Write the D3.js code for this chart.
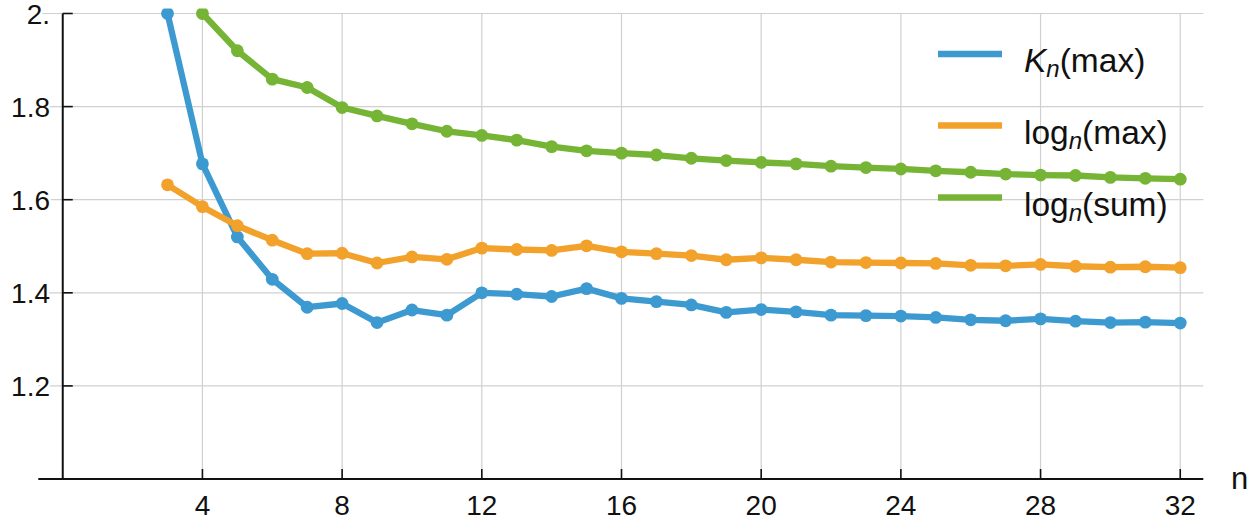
<!DOCTYPE html>
<html>
<head>
<meta charset="utf-8">
<script src="https://cdn.jsdelivr.net/npm/d3@7"></script>
<style>
  html, body { margin: 0; padding: 0; background: #fff; }
  svg { display: block; font-family: "Liberation Sans", Arial, sans-serif; }
</style>
</head>
<body>
<svg id="chart" width="1258" height="525"></svg>
<script>
// ---- data ----
const nValues = [3,4,5,6,7,8,9,10,11,12,13,14,15,16,17,18,19,20,21,22,23,24,25,26,27,28,29,30,31,32];
const knMax = [2.000,1.677,1.520,1.429,1.369,1.377,1.336,1.363,1.352,1.400,1.397,1.392,1.409,1.388,1.381,1.374,1.358,1.364,1.359,1.352,1.351,1.350,1.347,1.342,1.340,1.344,1.339,1.336,1.337,1.335];
const logMax = [1.632,1.585,1.544,1.513,1.484,1.485,1.464,1.477,1.472,1.496,1.493,1.491,1.501,1.488,1.484,1.480,1.471,1.475,1.471,1.466,1.465,1.464,1.463,1.459,1.458,1.461,1.457,1.455,1.456,1.454];
const nSum = [4,5,6,7,8,9,10,11,12,13,14,15,16,17,18,19,20,21,22,23,24,25,26,27,28,29,30,31,32];
const logSum = [2.000,1.920,1.859,1.841,1.798,1.780,1.763,1.747,1.738,1.728,1.714,1.705,1.700,1.696,1.689,1.684,1.680,1.677,1.672,1.669,1.666,1.662,1.659,1.655,1.653,1.652,1.648,1.646,1.644];
const xTicks = [4,8,12,16,20,24,28,32];
const yTicks = [1.2,1.4,1.6,1.8,2.0];
const yTickLabels = ["1.2","1.4","1.6","1.8","2."];
const seriesNames = ["Kn(max)","logn(max)","logn(sum)"];
const colors = ["#3d9ad1","#f2a12a","#76b435"];

const series = [
  { name: seriesNames[0], color: colors[0], pts: nValues.map((n,i)=>[n, knMax[i]]) },
  { name: seriesNames[1], color: colors[1], pts: nValues.map((n,i)=>[n, logMax[i]]) },
  { name: seriesNames[2], color: colors[2], pts: nSum.map((n,i)=>[n, logSum[i]]) }
];

// ---- scales ----
const svg = d3.select("#chart");
const x = d3.scaleLinear().domain([-0.7, 32.66]).range([38.3, 1203.3]);
const y = d3.scaleLinear().domain([1, 2]).range([479, 13.5]);
const x0 = x(0), y0 = y(1);

// gridlines
const grid = svg.append("g");
grid.selectAll("line.h").data(yTicks).join("line")
  .attr("x1", x.range()[0]).attr("x2", x.range()[1])
  .attr("y1", d=>y(d)).attr("y2", d=>y(d))
  .attr("stroke", "#d0d0d0").attr("stroke-width", 1.2);
grid.selectAll("line.v").data(xTicks).join("line")
  .attr("x1", d=>x(d)).attr("x2", d=>x(d))
  .attr("y1", y(2)).attr("y2", y0)
  .attr("stroke", "#d0d0d0").attr("stroke-width", 1.2);

// axes
const axes = svg.append("g").attr("stroke", "#111").attr("stroke-width", 2);
axes.append("line").attr("x1", x.range()[0]).attr("x2", x.range()[1]).attr("y1", y0).attr("y2", y0);
axes.append("line").attr("x1", x0).attr("x2", x0).attr("y1", y0).attr("y2", y(2));
axes.selectAll("line.xt").data(xTicks).join("line")
  .attr("x1", d=>x(d)).attr("x2", d=>x(d)).attr("y1", y0).attr("y2", y0 - 10)
  .attr("stroke-width", 1.6);
axes.selectAll("line.yt").data(yTicks).join("line")
  .attr("x1", x0).attr("x2", x0 + 10).attr("y1", d=>y(d)).attr("y2", d=>y(d))
  .attr("stroke-width", 1.6);

// tick labels
svg.append("g").selectAll("text").data(xTicks).join("text")
  .attr("x", d=>x(d)).attr("y", y0 + 36)
  .attr("text-anchor", "middle").attr("font-size", 28).attr("fill", "#111")
  .text(d=>d);
svg.append("g").selectAll("text").data(yTicks).join("text")
  .attr("x", 50).attr("y", d=>y(d) + 10)
  .attr("text-anchor", "end").attr("font-size", 28).attr("fill", "#111")
  .attr("stroke", "#fff").attr("stroke-width", 5).attr("paint-order", "stroke")
  .text((d,i)=>yTickLabels[i]);
svg.append("text").attr("x", 1231).attr("y", 489).attr("font-size", 31).attr("fill", "#111").text("n");

// clip
svg.append("defs").append("clipPath").attr("id", "clip")
  .append("rect").attr("x", 0).attr("y", y(2) - 5).attr("width", 1258).attr("height", 525);

const plot = svg.append("g").attr("clip-path", "url(#clip)");
const line = d3.line().x(d=>x(d[0])).y(d=>y(d[1]));
series.forEach(s => {
  const g = plot.append("g");
  g.append("path").datum(s.pts).attr("d", line)
    .attr("fill", "none").attr("stroke", s.color).attr("stroke-width", 6.3)
    .attr("stroke-linejoin", "round").attr("stroke-linecap", "round");
  g.selectAll("circle").data(s.pts).join("circle")
    .attr("cx", d=>x(d[0])).attr("cy", d=>y(d[1])).attr("r", 6.4)
    .attr("fill", s.color);
});

// legend
const legY = [54, 125.5, 197.5];
const leg = svg.append("g");
series.forEach((s, i) => {
  leg.append("line").attr("x1", 938).attr("x2", 1002).attr("y1", legY[i]).attr("y2", legY[i])
    .attr("stroke", s.color).attr("stroke-width", 6.5);
  const t = leg.append("text").attr("x", 1024).attr("y", legY[i] + 18)
    .attr("font-size", 33.5).attr("fill", "#111");
  if (i === 0) {
    t.append("tspan").attr("font-style", "italic").text("K");
  } else {
    t.append("tspan").text("log");
  }
  t.append("tspan").attr("font-style", "italic").attr("font-size", 24).attr("dy", 5).text("n");
  t.append("tspan").attr("dy", -5).text(i === 2 ? "(sum)" : "(max)");
});
</script>
</body>
</html>
